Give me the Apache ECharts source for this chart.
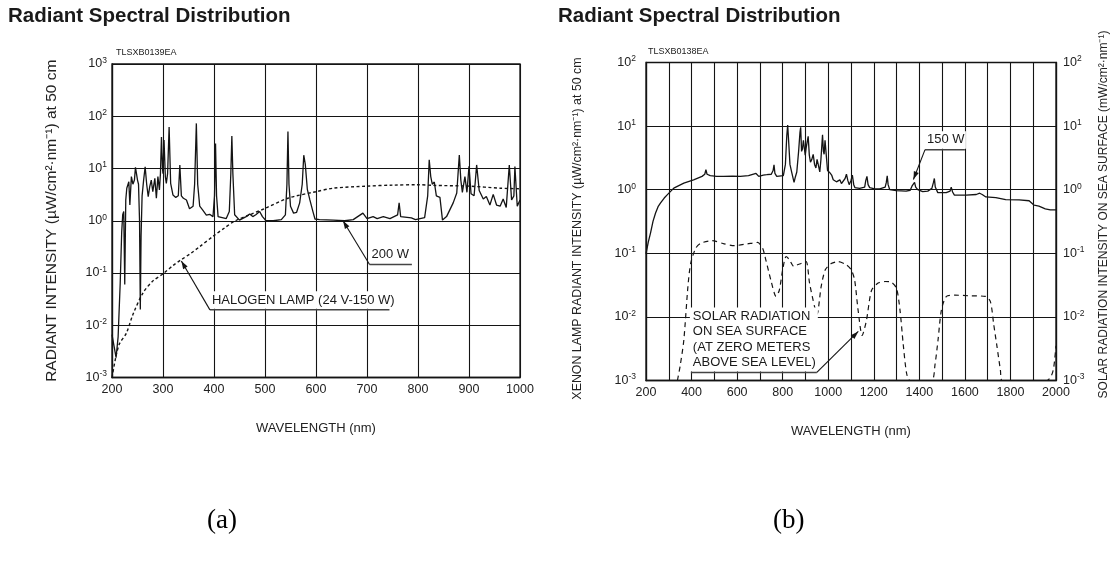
<!DOCTYPE html>
<html><head><meta charset="utf-8">
<script src="https://cdn.jsdelivr.net/npm/echarts@6/dist/echarts.min.js"></script>
<style>html,body{margin:0;padding:0;background:#fff}#c{width:1115px;height:566px}</style>
</head><body><div id="c"></div>
<script>
// ---------- DATA ----------
const titleText = 'Radiant Spectral Distribution';
const codeA = 'TLSXB0139EA';
const codeB = 'TLSXB0138EA';
const panelA = '(a)';
const panelB = '(b)';

// (a) Xenon lamp 200 W
const wlXenon200 = [200,204,208,212,216,219,221,223,225,227,229,231,233,235,238,241,244,246,248,250,252,254,255.5,257,259,262,265,268,271,274,277,280,284,287,290,293,295,297,299,300,302,304.6,306.5,309,312,315,319.6,325,330,333,336,340,346,352,359,362,365.4,368,372,378,385,391.5,398,401,403,405,408,411,424,430,433,435,437,440.5,450,463,470,476,482,489.5,495,502,516,532,540,543,545,547,550,556,562,568,573,576,579,583,588,594,598,607,634,656,673,692,700,712,720,732,745,760,763,766,787,795,813,819,822,825,828,832,836,843,848,856,869,876,881,884,887,892,896,900,904,910,915,920,928,934,941,947.5,954,961,967,973,979,983.5,988,990,994.6,1000];
const xenon200 = [0.0066,0.004,0.0024,0.006,0.06,0.6,1.3,1.5,0.06,2.5,4.2,4.5,5.6,2.0,7,5,6,10.5,8,6,5,1,0.02,0.5,3,6,10.8,5,2.9,4.5,6,3.6,6.5,2.7,7,3.9,8,40,10,8,35,7,5.2,8,62,5.2,3.1,2.8,3,11.7,3,2.7,2.5,1.7,1.9,5,73,5,1.9,1.6,1.28,1.33,1.2,3,30,3,1.2,1.1,1.1,1.5,8,42,8,1.3,1.03,1.2,1.35,1.2,1.3,1.5,1.2,1.0,1.0,1.05,1.3,5,51,5,1.9,1.4,1.45,2.2,5,18,12,4,2.5,1.5,1.08,1.05,1.03,1.0,1.05,1.4,1.1,1.2,1.1,1.2,1.1,1.3,2.2,1.2,1.13,1.05,1.15,3,14.7,7,5,5.5,3,2.8,1.03,1.2,2.2,3.4,18,6,3.5,7,3.5,11,3.3,3,11.7,3.8,2.6,2.9,2,3.2,2,1.9,2.6,1.8,11.7,2.5,3,10.9,1.9,2.5];

// (a) Halogen lamp 24 V-150 W
const wlHalogen = [200,208,215,228,241,261,280,301,320,336,355,372,400,420,440,470,501,545,600,634,699,750,800,830,900,961,1000];
const halogen = [0.001,0.0026,0.0045,0.007,0.016,0.042,0.07,0.098,0.14,0.18,0.24,0.32,0.52,0.72,0.98,1.3,1.74,2.7,3.6,4.2,4.6,4.8,4.9,4.75,4.6,4.2,4.1];

// (b) Xenon lamp 150 W
const wlXenon150 = [200,210,220,231,242,253,264,280,293,322,366,409,446,458,463,468,482,510,541,580,614,650,683,695,715,730,750,758,762,766,774,803,812,818,822,826,832,840,850,856,862,870,876,879,883,887,891,895,899,903,907,912,917,922,928,934,940,946,951,956,963,968,972,975,979,982,986,989,993,997,1007,1015,1022,1029,1036,1043,1051,1058,1066,1074,1080,1086,1092,1100,1106,1112,1117,1138,1160,1165,1170,1175,1182,1200,1226,1250,1255,1259,1263,1270,1298,1342,1360,1369,1379,1384,1393,1415,1437,1455,1462,1466,1470,1481,1518,1535,1540,1546,1554,1605,1650,1665,1670,1676,1692,1736,1779,1838,1882,1904,1925,1953,1975,2000];
const xenon150 = [0.098,0.15,0.21,0.32,0.43,0.54,0.62,0.74,0.83,1.06,1.27,1.43,1.62,1.75,2.06,1.75,1.66,1.62,1.62,1.64,1.62,1.66,1.8,1.62,1.7,1.72,1.75,2.0,2.46,1.8,1.62,1.66,2.5,7,10.4,6,2.5,1.85,1.3,1.6,1.9,4,8,9.6,4,4.4,6,5.8,3.5,4.5,5.5,6.9,3.5,2.7,3,3.6,2.5,2.2,3,2.5,1.9,3,5,7.3,4,3.6,6,6.2,3,2,1.85,1.7,1.43,1.4,1.33,1.4,1.43,1.25,1.33,1.5,1.75,1.4,1.2,1.4,1.7,1.2,1.08,1.05,1.1,1.4,1.62,1.2,1.08,1.04,1.03,1.1,1.3,1.65,1.2,1.0,0.97,0.95,0.98,1.16,1.3,1.1,1.0,0.93,0.95,1.05,1.3,1.5,1.1,0.9,0.9,0.95,1.1,0.92,0.82,0.82,0.84,0.88,0.92,0.84,0.77,0.75,0.7,0.69,0.67,0.57,0.55,0.5,0.48,0.48];

// (b) Solar radiation on sea surface (right axis)
const wlSolar = [338,350,366,384,396,418,440,491,543,587,646,690,712,726,748,771,785,800,815,829,849,865,881,903,918,940,951,969,987,1013,1043,1079,1101,1116,1131,1149,1168,1190,1219,1249,1278,1300,1315,1329,1344,1359,1454,1469,1482,1497,1519,1556,1616,1690,1712,1726,1741,1756,1763,1960,1980,1990,2000];
const solar = [0.001,0.0017,0.0043,0.03,0.069,0.12,0.144,0.158,0.141,0.132,0.141,0.148,0.12,0.079,0.038,0.021,0.026,0.055,0.089,0.08,0.062,0.066,0.069,0.074,0.034,0.0145,0.011,0.03,0.055,0.069,0.074,0.066,0.055,0.038,0.0129,0.0051,0.0089,0.026,0.034,0.036,0.035,0.028,0.0129,0.0038,0.0013,0.001,0.001,0.0018,0.0043,0.0129,0.021,0.022,0.0215,0.021,0.0174,0.0079,0.0034,0.00145,0.001,0.001,0.0012,0.0016,0.0035];

// axis ranges / labels
const xRangeA = [200, 1000];
const xRangeB = [200, 2000];
const yRangeA = [0.001, 1000];
const yRangeB = [0.001, 100];
const xNameText = 'WAVELENGTH (nm)';
const yNameA = 'RADIANT INTENSITY (\u00b5W/cm\u00b2\u00b7nm\u207b\u00b9) at 50 cm';
const yNameB = 'XENON LAMP RADIANT INTENSITY (\u00b5W/cm\u00b2\u00b7nm\u207b\u00b9) at 50 cm';
const yNameBRight = 'SOLAR RADIATION INTENSITY ON SEA SURFACE (mW/cm\u00b2\u00b7nm\u207b\u00b9)';

// annotations (anchor points in data units)
const noteLabels = ['200 W', 'HALOGEN LAMP (24 V-150 W)', '150 W', 'SOLAR RADIATION\nON SEA SURFACE\n(AT ZERO METERS\nABOVE SEA LEVEL)'];
const noteTips  = [[653, 1.0], [336, 0.17], [1374, 1.45], [1132, 0.0059]];
const noteLineStart = [[705, 0.145], [392, 0.0197], [1425, 4.26], [397, 0.00134]];
const noteLineEnd   = [[788, 0.145], [744, 0.0197], [1600, 4.26], [950, 0.00134]];

// ---------- CHART ----------
const FONT = '"Liberation Sans", Arial, sans-serif';
const INK = '#141414';
const zip = (xs, ys) => xs.map((x, i) => [x, ys[i]]);

function powLabel(v) {
  const e = Math.round(Math.log10(v));
  return '{b|10}{s|' + (e < 0 ? '-' + (-e) : e) + '}';
}
const richPow = {
  b: {fontSize: 12.5, lineHeight: 16, color: '#222', fontFamily: FONT},
  s: {fontSize: 8.5, lineHeight: 9, verticalAlign: 'top', color: '#222', fontFamily: FONT}
};
const gridLine = {show: true, lineStyle: {color: INK, width: 1.1}};
const axisLine = {show: true, lineStyle: {color: INK, width: 1.3}};

function logAxis(gridIndex, range, extra) {
  return Object.assign({
    gridIndex, type: 'log', logBase: 10, min: range[0], max: range[1],
    axisLine, axisTick: {show: false}, splitLine: gridLine,
    axisLabel: {formatter: powLabel, rich: richPow, showMinLabel: true, showMaxLabel: true},
    nameLocation: 'middle', nameRotate: 90,
    nameTextStyle: {fontFamily: FONT, color: '#222', fontSize: 13}
  }, extra);
}

const chart = echarts.init(document.getElementById('c'), null, {renderer: 'canvas'});
chart.setOption({
  animation: false,
  backgroundColor: '#fff',
  textStyle: {fontFamily: FONT},
  title: [
    {text: titleText, left: 8, top: 6, padding: 0, textStyle: {fontSize: 20.5, fontWeight: 'bold', color: '#1a1a1a', fontFamily: FONT}},
    {text: titleText, left: 558, top: 6, padding: 0, textStyle: {fontSize: 20.5, fontWeight: 'bold', color: '#1a1a1a', fontFamily: FONT}}
  ],
  grid: [
    {left: 112, top: 64, width: 408, height: 313.5, containLabel: false, outerBoundsMode: 'none', show: true, borderColor: INK, borderWidth: 1.3},
    {left: 646, top: 62.5, width: 410, height: 318, containLabel: false, outerBoundsMode: 'none', show: true, borderColor: INK, borderWidth: 1.3}
  ],
  xAxis: [
    {gridIndex: 0, type: 'value', min: xRangeA[0], max: xRangeA[1], interval: 100,
     axisLine, axisTick: {show: false}, splitLine: gridLine,
     axisLabel: {fontSize: 12.5, color: '#222', margin: 6, fontFamily: FONT, formatter: v => String(v)},
     name: xNameText, nameLocation: 'middle', nameGap: 44,
     nameTextStyle: {fontSize: 13, color: '#222', fontFamily: FONT}},
    {gridIndex: 1, type: 'value', min: xRangeB[0], max: xRangeB[1], interval: 100,
     axisLine, axisTick: {show: false}, splitLine: gridLine,
     axisLabel: {fontSize: 12.5, color: '#222', margin: 6, fontFamily: FONT,
                 formatter: v => (v % 200 === 0 ? String(v) : '')},
     name: xNameText, nameLocation: 'middle', nameGap: 44,
     nameTextStyle: {fontSize: 13, color: '#222', fontFamily: FONT}}
  ],
  yAxis: [
    logAxis(0, yRangeA, {name: yNameA, nameGap: 52, nameTextStyle: {fontFamily: FONT, color: '#222', fontSize: 15.5},
                         axisLabel: {formatter: powLabel, rich: richPow, margin: 5, showMinLabel: true, showMaxLabel: true}}),
    logAxis(1, yRangeB, {name: yNameB, nameGap: 62, nameTextStyle: {fontFamily: FONT, color: '#222', fontSize: 12.4, padding: [0, 14, 0, 0]},
                         axisLabel: {formatter: powLabel, rich: richPow, margin: 10, showMinLabel: true, showMaxLabel: true}}),
    logAxis(1, yRangeB, {position: 'right', splitLine: {show: false}, name: yNameBRight, nameGap: 42,
                         nameTextStyle: {fontFamily: FONT, color: '#222', fontSize: 12, padding: [0, 0, 0, 14]},
                         axisLabel: {formatter: powLabel, rich: richPow, margin: 7, showMinLabel: true, showMaxLabel: true}})
  ],
  series: [
    {name: '200 W', type: 'line', xAxisIndex: 0, yAxisIndex: 0, data: zip(wlXenon200, xenon200),
     showSymbol: false, lineStyle: {color: INK, width: 1.3}, z: 3},
    {name: 'HALOGEN LAMP (24 V-150 W)', type: 'line', xAxisIndex: 0, yAxisIndex: 0, data: zip(wlHalogen, halogen),
     showSymbol: false, smooth: 0.3, lineStyle: {color: INK, width: 1.4, type: [3, 2.5]}, z: 3},
    {name: '150 W', type: 'line', xAxisIndex: 1, yAxisIndex: 1, data: zip(wlXenon150, xenon150),
     showSymbol: false, lineStyle: {color: INK, width: 1.3}, z: 3},
    {name: 'SOLAR RADIATION', type: 'line', xAxisIndex: 1, yAxisIndex: 2, data: zip(wlSolar, solar),
     showSymbol: false, smooth: 0.25, lineStyle: {color: INK, width: 1.2, type: [5, 4]}, z: 3}
  ]
});

// annotations positioned through the chart's own scales
const noteSeries = [0, 1, 2, 3];
const leadFromEnd = [false, false, false, true];
const noteFont = [13, 13, 13, 13];
const graphics = [];
function head(tip, from) {
  const dx = tip[0] - from[0], dy = tip[1] - from[1];
  const L = Math.hypot(dx, dy), ux = dx / L, uy = dy / L, len = 8, hw = 2.6;
  const bx = tip[0] - ux * len, by = tip[1] - uy * len;
  return [[tip[0], tip[1]], [bx - uy * hw, by + ux * hw], [bx + uy * hw, by - ux * hw]];
}
noteLabels.forEach((txt, i) => {
  const f = {seriesIndex: noteSeries[i]};
  const tip = chart.convertToPixel(f, noteTips[i]);
  const a = chart.convertToPixel(f, noteLineStart[i]);
  const b = chart.convertToPixel(f, noteLineEnd[i]);
  const lead = leadFromEnd[i] ? b : a;
  const nLines = txt.split('\n').length;
  const lh = 15.5;
  graphics.push({type: 'rect', z: 50, shape: {x: a[0] - 1, y: a[1] - nLines * lh - 3, width: b[0] - a[0] + 2, height: nLines * lh + 2},
                 style: {fill: '#fff'}});
  graphics.push({type: 'text', z: 51, x: a[0] + 2, y: a[1] - 2,
                 style: {text: txt, fill: '#1a1a1a', font: noteFont[i] + 'px ' + FONT, textVerticalAlign: 'bottom', verticalAlign: 'bottom', lineHeight: lh}});
  graphics.push({type: 'line', z: 51, shape: {x1: a[0], y1: a[1], x2: b[0], y2: b[1]}, style: {stroke: '#444', lineWidth: 1.5}});
  graphics.push({type: 'line', z: 51, shape: {x1: lead[0], y1: lead[1], x2: tip[0], y2: tip[1]}, style: {stroke: INK, lineWidth: 1.1}});
  graphics.push({type: 'polygon', z: 52, shape: {points: head(tip, lead)}, style: {fill: INK}});
});
graphics.push({type: 'text', left: 116, top: 48, style: {text: codeA, fill: '#222', font: '9px ' + FONT}});
graphics.push({type: 'text', left: 648, top: 47, style: {text: codeB, fill: '#222', font: '9px ' + FONT}});
graphics.push({type: 'text', left: 207, top: 507, style: {text: panelA, fill: '#000', font: '27px "Liberation Serif", "Times New Roman", serif'}});
graphics.push({type: 'text', left: 773, top: 507, style: {text: panelB, fill: '#000', font: '27px "Liberation Serif", "Times New Roman", serif'}});
chart.setOption({graphic: graphics});
</script>
</body></html>
